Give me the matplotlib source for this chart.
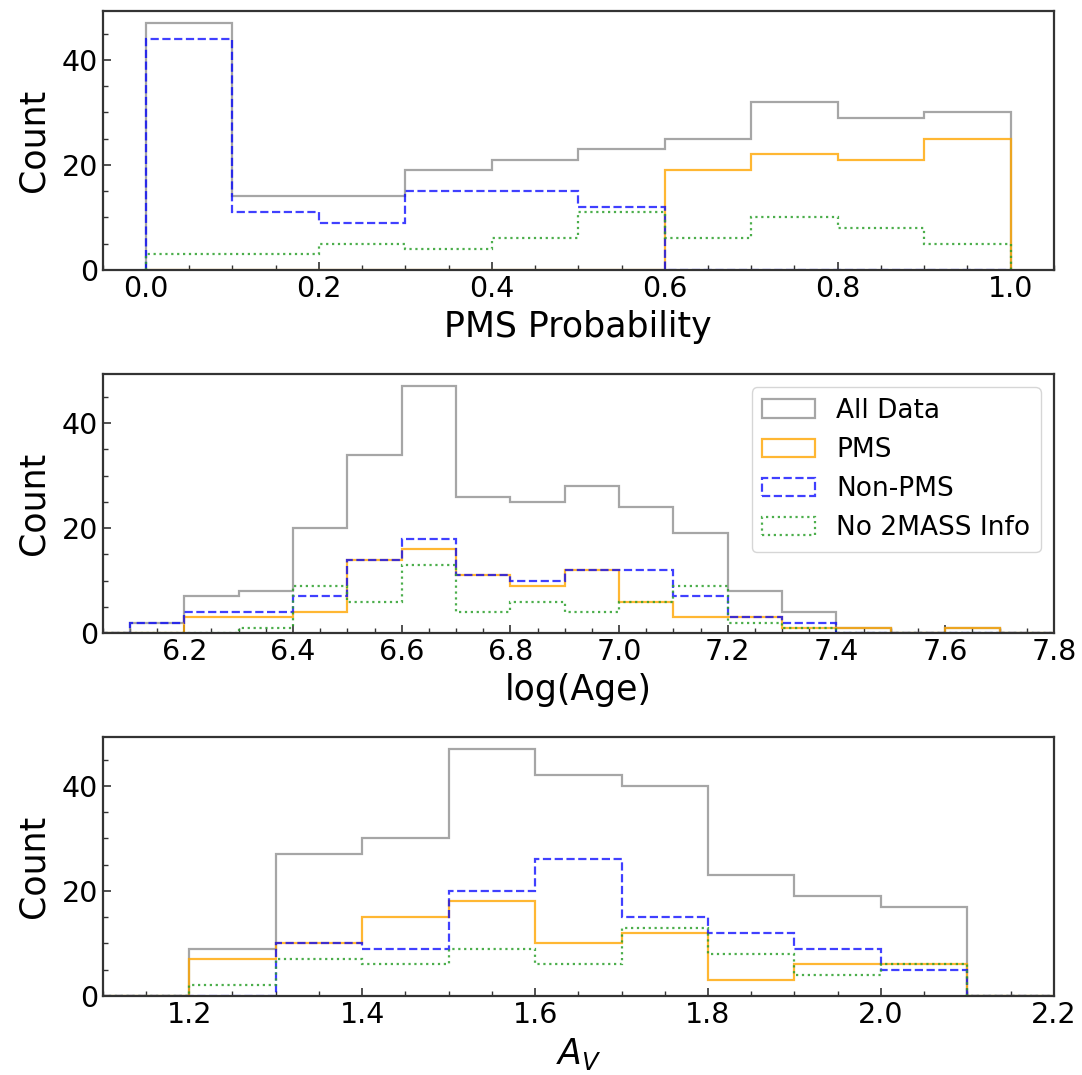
import numpy as np
import matplotlib
matplotlib.use("Agg")
import matplotlib.pyplot as plt

# ------------------------
# Histogram counts
# ------------------------
labels = ["All Data", "PMS", "Non-PMS", "No 2MASS Info"]

# PMS probability, bins of 0.1 from 0 to 1
prob_edges = np.round(np.arange(0.0, 1.01, 0.1), 2)
prob_all = [47, 14, 14, 19, 21, 23, 25, 32, 29, 30]
prob_pms = [0, 0, 0, 0, 0, 0, 19, 22, 21, 25]
prob_non = [44, 11, 9, 15, 15, 12, 0, 0, 0, 0]
prob_no2mass = [3, 3, 5, 4, 6, 11, 6, 10, 8, 5]

# log(Age), bins of 0.1 from 6.0 to 7.9
age_edges = np.round(np.arange(6.0, 7.91, 0.1), 2)
age_all = [0, 2, 7, 8, 20, 34, 47, 26, 25, 28, 24, 19, 8, 4, 1, 0, 1, 0, 0]
age_pms = [0, 0, 3, 3, 4, 14, 16, 11, 9, 12, 6, 3, 3, 1, 1, 0, 1, 0, 0]
age_non = [0, 2, 4, 4, 7, 14, 18, 11, 10, 12, 12, 7, 3, 2, 0, 0, 0, 0, 0]
age_no2mass = [0, 0, 0, 1, 9, 6, 13, 4, 6, 4, 6, 9, 2, 1, 0, 0, 0, 0, 0]

# A_V, bins of 0.1 from 1.1 to 2.2
av_edges = np.round(np.arange(1.1, 2.21, 0.1), 2)
av_all = [0, 9, 27, 30, 47, 42, 40, 23, 19, 17, 0]
av_pms = [0, 7, 10, 15, 18, 10, 12, 3, 6, 6, 0]
av_non = [0, 0, 10, 9, 20, 26, 15, 12, 9, 5, 0]
av_no2mass = [0, 2, 7, 6, 9, 6, 13, 8, 4, 6, 0]

styles = [
    dict(color="gray", alpha=0.7, linestyle="-"),
    dict(color="orange", alpha=0.8, linestyle="-"),
    dict(color="blue", alpha=0.75, linestyle="--"),
    dict(color="tab:green", alpha=0.85, linestyle=":"),
]

panels = [
    (prob_edges, [prob_all, prob_pms, prob_non, prob_no2mass], "PMS Probability", None),
    (age_edges, [age_all, age_pms, age_non, age_no2mass], "log(Age)", (6.05, 7.8)),
    (av_edges, [av_all, av_pms, av_non, av_no2mass], r"$A_V$", (1.1, 2.2)),
]

fig = plt.figure(figsize=(10.82, 10.75), dpi=100)
boxes = [
    [0.095, 0.749, 0.879, 0.241],
    [0.095, 0.411, 0.879, 0.241],
    [0.095, 0.0735, 0.879, 0.241],
]

for i, (edges, series, xlabel, xlim) in enumerate(panels):
    ax = fig.add_axes(boxes[i])
    centers = 0.5 * (edges[:-1] + edges[1:])
    for counts, lab, st in zip(series, labels, styles):
        ax.hist(centers, bins=edges, weights=counts, histtype="step",
                linewidth=1.6, label=lab, **st)
    if xlim is not None:
        ax.set_xlim(*xlim)
    ax.set_xlabel(xlabel, fontsize=25, labelpad=5)
    ax.set_ylabel("Count", fontsize=25, labelpad=8)
    ax.set_yticks([0, 20, 40])
    ax.minorticks_on()
    ax.tick_params(which="both", direction="in", labelsize=20.5, colors="#333333",
                   labelcolor="black")
    ax.tick_params(which="major", length=6, width=1.2)
    ax.tick_params(which="minor", length=3.5, width=1.0)
    for sp in ax.spines.values():
        sp.set_color("#333333")
        sp.set_linewidth(1.6)
    if i == 1:
        ax.legend(loc="upper right", fontsize=19)

plt.savefig("out.png", dpi=100)
